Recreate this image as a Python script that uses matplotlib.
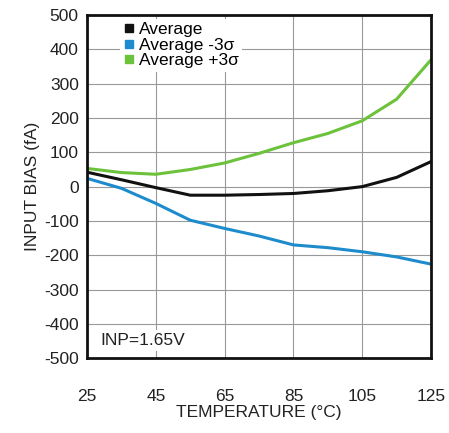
import matplotlib.pyplot as plt
from matplotlib.lines import Line2D

plt.rcParams['font.family'] = ['Liberation Sans', 'DejaVu Sans']
plt.rcParams['axes.unicode_minus'] = False

# Temperature (degC) and input bias (fA)
temp = [25, 35, 45, 55, 65, 75, 85, 95, 105, 115, 125]
avg = [42, 20, -3, -25, -25, -23, -20, -12, 0, 27, 73]
avg_minus = [24, -5, -49, -98, -122, -144, -170, -178, -190, -205, -226]
avg_plus = [53, 41, 36, 50, 69, 97, 128, 155, 192, 255, 370]

xticks = [25, 45, 65, 85, 105, 125]
yticks = list(range(-500, 501, 100))

c_avg = '#111111'
c_minus = '#1e8ccc'
c_plus = '#6cc23a'

fig = plt.figure(figsize=(4.49, 4.33), dpi=100)
ax = fig.add_axes([0.194, 0.173, 0.766, 0.792])

ax.plot(temp, avg, color=c_avg, lw=2.2)
ax.plot(temp, avg_minus, color=c_minus, lw=2.2)
ax.plot(temp, avg_plus, color=c_plus, lw=2.2)

ax.set_xlim(25, 125)
ax.set_ylim(-500, 500)
ax.set_xticks(xticks)
ax.set_yticks(yticks)
ax.grid(True, color='#999999', lw=0.8)
ax.tick_params(length=0, labelsize=12.5, colors='#222222')
ax.tick_params(axis='x', pad=22)
ax.tick_params(axis='y', pad=6)
for s in ax.spines.values():
    s.set_linewidth(2)
    s.set_color('#111111')

ax.set_xlabel('TEMPERATURE (°C)', fontsize=12.5, color='#222222', labelpad=1)
ax.set_ylabel('INPUT BIAS (fA)', fontsize=12.5, color='#222222', labelpad=3)

handles = [Line2D([], [], ls='none', marker='s', ms=6, color=c)
           for c in (c_avg, c_minus, c_plus)]
leg = ax.legend(handles, ['Average', 'Average -3σ', 'Average +3σ'],
                loc='upper left', bbox_to_anchor=(0.07, 1.015), frameon=True,
                fontsize=12.5, handlelength=0.6, handletextpad=0.3,
                labelspacing=0.02, borderpad=0.2, framealpha=1)
leg.get_frame().set_edgecolor('none')

ax.text(0.04, 0.03, 'INP=1.65V', transform=ax.transAxes, fontsize=12.5,
        color='#222222', ha='left', va='bottom',
        bbox=dict(facecolor='white', edgecolor='none', pad=2))

fig.savefig('out.png', dpi=100)
